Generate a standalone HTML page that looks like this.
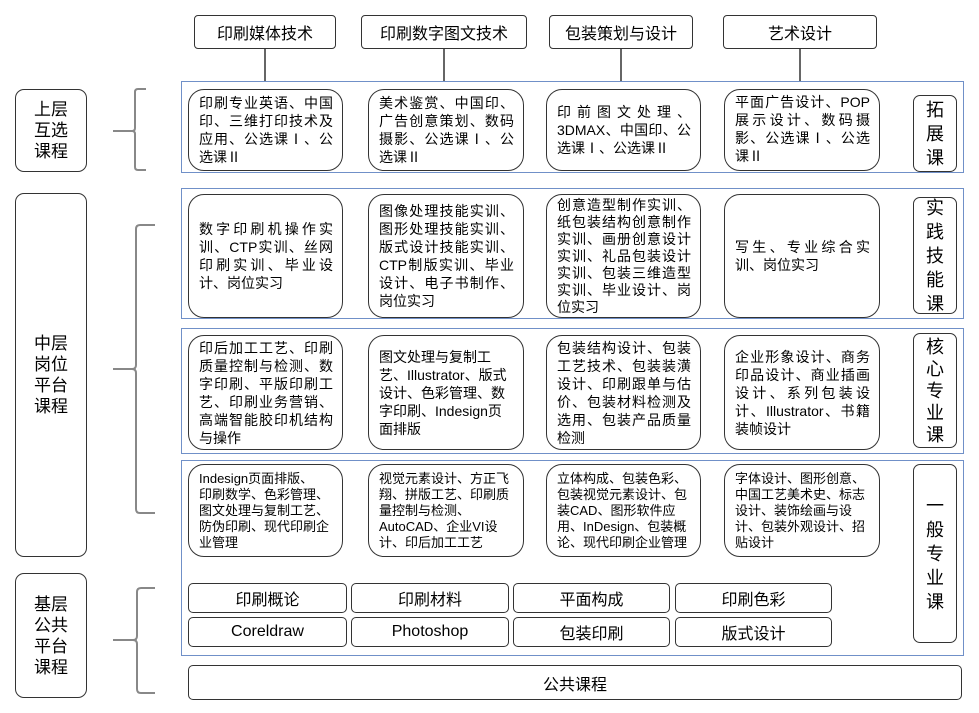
<!DOCTYPE html>
<html><head><meta charset="utf-8"><style>
body{margin:0;width:979px;height:713px;background:#fff;position:relative;overflow:hidden;font-family:"Liberation Sans","Noto Sans CJK SC",sans-serif;color:#000}
.a{position:absolute;box-sizing:border-box}
.hd{border:1.5px solid #333;border-radius:4px;font-size:16px;display:flex;align-items:center;justify-content:center}
.pn{border:1.5px solid #7090c8}
.bx{border:1.5px solid #333;border-radius:16px;font-size:14px;line-height:18px;padding:3px 9px 3px 10px;display:flex;align-items:center;text-align:justify}
.bx.t{align-items:flex-start}
.bx.s{font-size:13px;line-height:16px;text-align:left}
.lb{border:1.5px solid #333;border-radius:9px;font-size:17px;line-height:21px;display:flex;align-items:center;justify-content:center;text-align:center}
.rl{border:1.5px solid #333;border-radius:7px;font-size:18px;line-height:24px;display:flex;align-items:center;justify-content:center;text-align:center;width:44px;left:913px}
.bt{border:1.5px solid #333;border-radius:5px;font-size:16px;display:flex;align-items:center;justify-content:center}
</style></head><body>
<div class="a hd" style="left:194px;top:15px;width:142px;height:34px">印刷媒体技术</div>
<div class="a hd" style="left:361px;top:15px;width:166px;height:34px">印刷数字图文技术</div>
<div class="a hd" style="left:549px;top:15px;width:144px;height:34px">包装策划与设计</div>
<div class="a hd" style="left:723px;top:15px;width:154px;height:34px">艺术设计</div>
<svg class="a" style="left:0;top:0" width="979" height="713">
<g stroke="#333" stroke-width="1.5" fill="none">
<line x1="265" y1="49" x2="265" y2="81"/><line x1="444" y1="49" x2="444" y2="81"/>
<line x1="621" y1="49" x2="621" y2="81"/><line x1="800" y1="49" x2="800" y2="81"/>
</g>
<g stroke="#888" stroke-width="2" fill="none">
<path d="M146 89 H138 Q135 89 135 92 V128 Q135 131 132 131 H113 M132 131 Q135 131 135 134 V167 Q135 170 138 170 H146"/>
<path d="M155 225 H140 Q136 225 136 229 V365 Q136 369 132 369 H113 M132 369 Q136 369 136 373 V509 Q136 513 140 513 H155"/>
<path d="M155 588 H141 Q137 588 137 592 V636 Q137 640 133 640 H113 M133 640 Q137 640 137 644 V689 Q137 693 141 693 H155"/>
</g></svg>
<div class="a lb" style="left:15px;top:89px;width:72px;height:83px">上层<br>互选<br>课程</div>
<div class="a lb" style="left:15px;top:193px;width:72px;height:364px">中层<br>岗位<br>平台<br>课程</div>
<div class="a lb" style="left:15px;top:573px;width:72px;height:125px">基层<br>公共<br>平台<br>课程</div>

<div class="a pn" style="left:181px;top:81px;width:783px;height:92px"></div>
<div class="a pn" style="left:181px;top:188px;width:783px;height:131px"></div>
<div class="a pn" style="left:181px;top:328px;width:783px;height:126px"></div>
<div class="a pn" style="left:181px;top:460px;width:783px;height:196px"></div>

<div class="a bx" style="left:188px;top:89px;width:155px;height:82px">印刷专业英语、中国印、三维打印技术及应用、公选课Ⅰ、公选课Ⅱ</div>
<div class="a bx" style="left:368px;top:89px;width:156px;height:82px">美术鉴赏、中国印、广告创意策划、数码摄影、公选课Ⅰ、公选课Ⅱ</div>
<div class="a bx" style="left:546px;top:89px;width:155px;height:82px">印前图文处理、3DMAX、中国印、公选课Ⅰ、公选课Ⅱ</div>
<div class="a bx t" style="left:724px;top:89px;width:156px;height:82px">平面广告设计、POP展示设计、数码摄影、公选课Ⅰ、公选课Ⅱ</div>
<div class="a rl" style="top:95px;height:77px">拓<br>展<br>课</div>

<div class="a bx" style="left:188px;top:194px;width:155px;height:124px">数字印刷机操作实训、CTP实训、丝网印刷实训、毕业设计、岗位实习</div>
<div class="a bx" style="left:368px;top:194px;width:156px;height:124px">图像处理技能实训、图形处理技能实训、版式设计技能实训、CTP制版实训、毕业设计、电子书制作、岗位实习</div>
<div class="a bx" style="left:546px;top:194px;width:155px;height:124px;padding-top:1px;padding-bottom:1px;line-height:17px">创意造型制作实训、纸包装结构创意制作实训、画册创意设计实训、礼品包装设计实训、包装三维造型实训、毕业设计、岗位实习</div>
<div class="a bx" style="left:724px;top:194px;width:156px;height:124px">写生、专业综合实训、岗位实习</div>
<div class="a rl" style="top:197px;height:117px">实<br>践<br>技<br>能<br>课</div>

<div class="a bx" style="left:188px;top:335px;width:155px;height:115px">印后加工工艺、印刷质量控制与检测、数字印刷、平版印刷工艺、印刷业务营销、高端智能胶印机结构与操作</div>
<div class="a bx" style="left:368px;top:335px;width:156px;height:115px;text-align:left">图文处理与复制工艺、Illustrator、版式设计、色彩管理、数字印刷、Indesign页面排版</div>
<div class="a bx" style="left:546px;top:335px;width:155px;height:115px">包装结构设计、包装工艺技术、包装装潢设计、印刷跟单与估价、包装材料检测及选用、包装产品质量检测</div>
<div class="a bx" style="left:724px;top:335px;width:156px;height:115px">企业形象设计、商务印品设计、商业插画设计、系列包装设计、Illustrator、书籍装帧设计</div>
<div class="a rl" style="top:333px;height:115px;line-height:22px">核<br>心<br>专<br>业<br>课</div>

<div class="a bx s" style="left:188px;top:464px;width:155px;height:93px">Indesign页面排版、<br>印刷数学、色彩管理、图文处理与复制工艺、防伪印刷、现代印刷企业管理</div>
<div class="a bx s" style="left:368px;top:464px;width:156px;height:93px">视觉元素设计、方正飞翔、拼版工艺、印刷质量控制与检测、AutoCAD、企业VI设计、印后加工工艺</div>
<div class="a bx s" style="left:546px;top:464px;width:155px;height:93px">立体构成、包装色彩、<br>包装视觉元素设计、包装CAD、图形软件应用、InDesign、包装概论、现代印刷企业管理</div>
<div class="a bx s" style="left:724px;top:464px;width:156px;height:93px">字体设计、图形创意、<br>中国工艺美术史、标志设计、装饰绘画与设计、包装外观设计、招贴设计</div>
<div class="a rl" style="top:464px;height:179px">一<br>般<br>专<br>业<br>课</div>

<div class="a bt" style="left:188px;top:583px;width:159px;height:30px">印刷概论</div>
<div class="a bt" style="left:351px;top:583px;width:158px;height:30px">印刷材料</div>
<div class="a bt" style="left:513px;top:583px;width:157px;height:30px">平面构成</div>
<div class="a bt" style="left:675px;top:583px;width:157px;height:30px">印刷色彩</div>
<div class="a bt" style="left:188px;top:617px;width:159px;height:30px">Coreldraw</div>
<div class="a bt" style="left:351px;top:617px;width:158px;height:30px">Photoshop</div>
<div class="a bt" style="left:513px;top:617px;width:157px;height:30px">包装印刷</div>
<div class="a bt" style="left:675px;top:617px;width:157px;height:30px">版式设计</div>
<div class="a bt" style="left:188px;top:665px;width:774px;height:35px">公共课程</div>
</body></html>
